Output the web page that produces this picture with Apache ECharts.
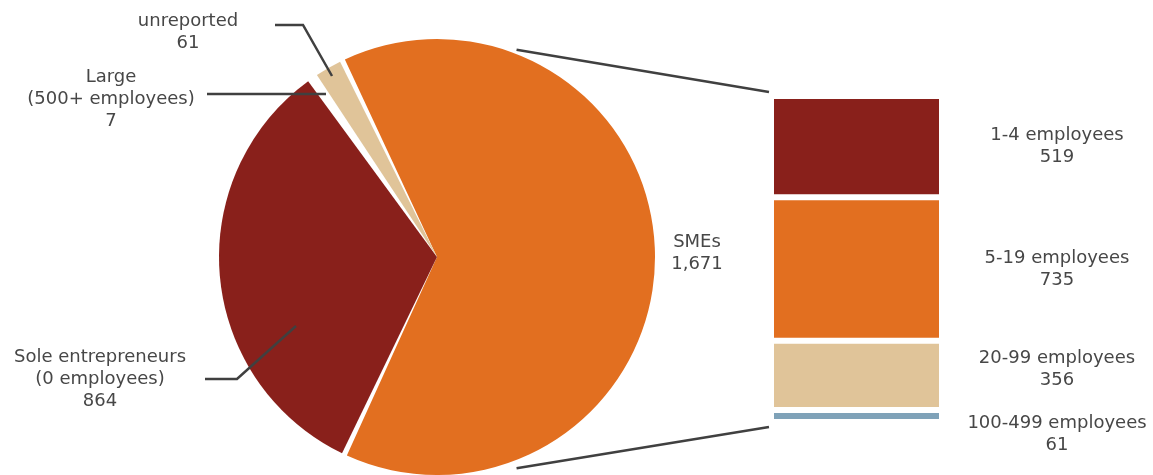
<!DOCTYPE html>
<html>
<head>
<meta charset="utf-8">
<script src="https://cdn.jsdelivr.net/npm/echarts@6/dist/echarts.min.js"></script>
<style>
  html, body { margin: 0; padding: 0; background: #fff; }
  #chart { width: 1153px; height: 475px; }
</style>
</head>
<body>
<div id="chart"></div>
<script>
// Firms by size class (pie)
const pieNames = ['SMEs', 'Sole entrepreneurs\n(0 employees)', 'Large\n(500+ employees)', 'unreported'];
const pieValues = [1671, 864, 7, 61];

// Breakdown of SMEs (stacked bar, top to bottom)
const smeNames = ['1-4 employees', '5-19 employees', '20-99 employees', '100-499 employees'];
const smeValues = [519, 735, 356, 61];

// Styling
const pieColors = ['#E26F20', '#89201B', '#A0A0A0', '#E0C499'];
const smeColors = ['#89201B', '#E26F20', '#E0C499', '#7FA2B8'];
const textColor = '#474747';
const lineColor = '#404040';
const fontFamily = 'DejaVu Sans';
const fontSize = 18;

const PIE_CENTER = [437, 257];
const PIE_RADIUS = 218;
const GRID = { left: 771, top: 96, width: 171, height: 326 };

// Label placement for the pie (label centre + leader line)
const pieLabelPlacement = [
  { x: 697, y: 253, line: null },
  { x: 100, y: 379, line: [[205, 379], [237, 379], [296, 326]] },
  { x: 111, y: 99, line: [[207, 94], [326, 94]] },
  { x: 188, y: 32, line: [[275, 25], [303, 25], [332, 76]] }
];
// Vertical nudges of the bar labels
const smeLabelOffsets = [[0, 0], [0, 0], [0, -6], [0, 18]];

const fmt = v => v.toLocaleString('en-US');
const smeTotal = smeValues.reduce((a, b) => a + b, 0);

const chart = echarts.init(document.getElementById('chart'), null, { renderer: 'canvas' });

const pieData = pieNames.map((n, i) => ({
  name: n,
  value: pieValues[i],
  itemStyle: { color: pieColors[i] }
}));

// stacked from bottom: last category first
const barSeries = smeNames.map((n, i) => i).reverse().map(i => ({
  type: 'bar',
  name: smeNames[i],
  stack: 'sme',
  barWidth: '100%',
  data: [smeValues[i]],
  itemStyle: { color: smeColors[i], borderColor: '#fff', borderWidth: 3 },
  label: {
    show: true,
    position: 'right',
    distance: 115,
    align: 'center',
    verticalAlign: 'middle',
    offset: smeLabelOffsets[i],
    color: textColor,
    fontFamily: fontFamily,
    fontSize: fontSize,
    lineHeight: 22,
    formatter: p => smeNames[i] + '\n' + fmt(p.value)
  },
  emphasis: { disabled: true },
  silent: true
}));

// Leader lines for the pie labels, drawn above the slices
const leaderLines = pieLabelPlacement.filter(p => p.line).map(p => ({
  type: 'polyline',
  silent: true,
  z: 100,
  shape: { points: p.line },
  style: { stroke: lineColor, lineWidth: 2.5, fill: null }
}));

chart.setOption({
  animation: false,
  backgroundColor: '#fff',
  grid: { left: GRID.left, top: GRID.top, width: GRID.width, height: GRID.height, containLabel: false },
  xAxis: { type: 'category', data: ['SMEs'], show: false },
  yAxis: { type: 'value', min: 0, max: smeTotal, show: false },
  series: [
    {
      type: 'pie',
      center: PIE_CENTER,
      radius: PIE_RADIUS,
      startAngle: 115.7,
      clockwise: true,
      padAngle: 1.4,
      avoidLabelOverlap: false,
      silent: true,
      emphasis: { disabled: true },
      data: pieData,
      label: {
        show: true,
        position: 'outside',
        color: textColor,
        fontFamily: fontFamily,
        fontSize: fontSize,
        lineHeight: 22,
        align: 'center',
        formatter: p => p.name + '\n' + fmt(p.value)
      },
      labelLine: { show: false },
      labelLayout: params => {
        const pl = pieLabelPlacement[params.dataIndex];
        return { x: pl.x, y: pl.y, align: 'center', verticalAlign: 'middle' };
      }
    },
    ...barSeries
  ]
});

// Connector lines from the SMEs slice to the breakdown bar
const topY = chart.convertToPixel({ yAxisIndex: 0 }, smeTotal);
const botY = chart.convertToPixel({ yAxisIndex: 0 }, 0);
const connAngle = 21 * Math.PI / 180;
const connR = PIE_RADIUS + 4;
const px = PIE_CENTER[0] + connR * Math.sin(connAngle);
const pyTop = PIE_CENTER[1] - connR * Math.cos(connAngle);
const pyBot = PIE_CENTER[1] + connR * Math.cos(connAngle) + 4;
chart.setOption({
  graphic: [
    { type: 'line', silent: true, z: 100, shape: { x1: px, y1: pyTop, x2: GRID.left - 2, y2: topY - 4 },
      style: { stroke: lineColor, lineWidth: 2.5 } },
    { type: 'line', silent: true, z: 100, shape: { x1: px, y1: pyBot, x2: GRID.left - 2, y2: botY + 5 },
      style: { stroke: lineColor, lineWidth: 2.5 } },
    ...leaderLines
  ]
});
</script>
</body>
</html>
